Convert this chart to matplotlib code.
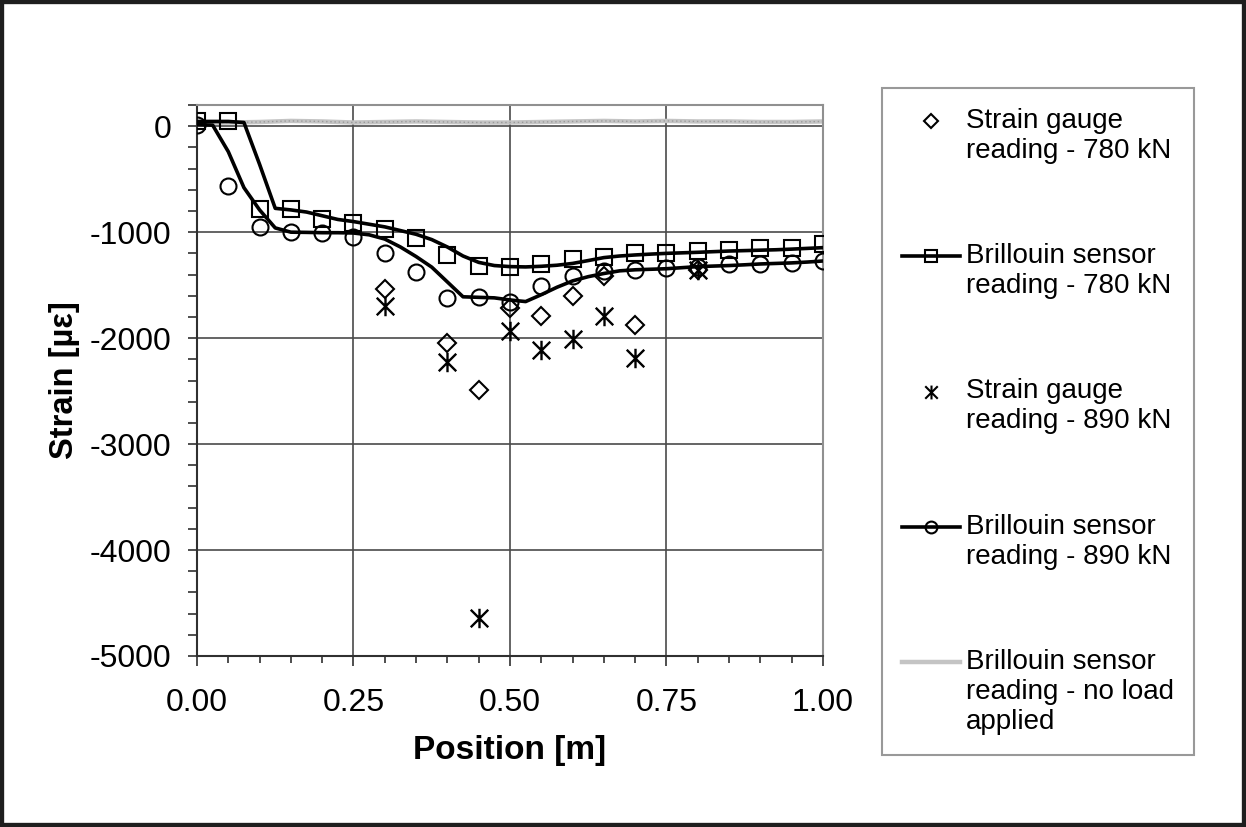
import numpy as np
import matplotlib
matplotlib.use('Agg')
import matplotlib.pyplot as plt
from matplotlib.lines import Line2D
from matplotlib.patches import Rectangle
from matplotlib.path import Path
from matplotlib.ticker import MultipleLocator, FormatStrFormatter

plt.rcParams['font.family'] = ['Liberation Sans', 'DejaVu Sans']
plt.rcParams['axes.unicode_minus'] = False

# strain gauges (positions in m, strain in microstrain)
gauge_pos = [0.30, 0.40, 0.45, 0.50, 0.55, 0.60, 0.65, 0.70, 0.80]
gauge_780 = [-1540, -2045, -2490, -1715, -1787, -1605, -1416, -1872, -1353]
gauge_890 = [-1693, -2229, -4640, -1936, -2115, -2008, -1794, -2187, -1353]

# Brillouin readings (markers)
bri_pos = [0.00, 0.05, 0.10, 0.15, 0.20, 0.25, 0.30, 0.35, 0.40, 0.45, 0.50,
           0.55, 0.60, 0.65, 0.70, 0.75, 0.80, 0.85, 0.90, 0.95, 1.00]
bri_780 = [50, 50, -779, -779, -873, -911, -968, -1053, -1220, -1321, -1327,
           -1300, -1253, -1233, -1201, -1201, -1180, -1170, -1154, -1147, -1110]
bri_890 = [10, -565, -953, -1000, -1012, -1048, -1198, -1373, -1620, -1611, -1662,
           -1510, -1416, -1367, -1355, -1336, -1327, -1305, -1296, -1289, -1274]

# Brillouin profiles (lines)
prof_pos = [0.000, 0.025, 0.050, 0.075, 0.100, 0.125, 0.150, 0.175, 0.200, 0.225,
            0.250, 0.275, 0.300, 0.325, 0.350, 0.375, 0.400, 0.425, 0.450, 0.475,
            0.500, 0.525, 0.550, 0.575, 0.600, 0.625, 0.650, 0.675, 0.700, 0.725,
            0.750, 0.775, 0.800, 0.825, 0.850, 0.875, 0.900, 0.925, 0.950, 0.975, 1.000]
prof_780 = [45, 45, 45, 35, -360, -775, -790, -810, -845, -880,
            -900, -925, -950, -985, -1020, -1070, -1140, -1225, -1285, -1315,
            -1325, -1328, -1322, -1312, -1295, -1268, -1240, -1225, -1215, -1207,
            -1200, -1195, -1190, -1184, -1178, -1174, -1170, -1166, -1160, -1153, -1146]
prof_890 = [15, 10, -240, -580, -790, -960, -1000, -1002, -1005, -1005,
            -1008, -1025, -1065, -1140, -1230, -1330, -1470, -1610, -1615, -1620,
            -1640, -1655, -1590, -1520, -1460, -1420, -1390, -1365, -1355, -1350,
            -1345, -1335, -1325, -1320, -1315, -1308, -1300, -1295, -1290, -1282, -1272]

# no load profile
noload_pos = bri_pos
noload = [30, 35, 40, 50, 45, 35, 40, 45, 40, 35, 35,
          40, 45, 50, 45, 50, 45, 45, 40, 40, 45]

labels = ['Strain gauge\nreading - 780 kN',
          'Brillouin sensor\nreading - 780 kN',
          'Strain gauge\nreading - 890 kN',
          'Brillouin sensor\nreading - 890 kN',
          'Brillouin sensor\nreading - no load\napplied']

# asterisk like the excel one: vertical bar + X
star = Path([(0, -1), (0, 1), (-0.9, -0.9), (0.9, 0.9), (-0.9, 0.9), (0.9, -0.9)],
            [Path.MOVETO, Path.LINETO, Path.MOVETO, Path.LINETO, Path.MOVETO, Path.LINETO])

fig = plt.figure(figsize=(12.46, 8.27), dpi=100)
ax = fig.add_axes([0.1581, 0.2068, 0.5024, 0.6662])

ax.plot(noload_pos, noload, color='#c4c4c4', lw=3.2, zorder=2)
ax.plot(noload_pos, noload, color='#9a9a9a', lw=1, ls=(0, (1, 2)), zorder=2)
ax.plot(prof_pos, prof_780, color='black', lw=2.6, zorder=3)
ax.plot(prof_pos, prof_890, color='black', lw=2.6, zorder=3)
ax.plot(bri_pos, bri_780, ls='none', marker='s', ms=12, mfc='none', mec='black', mew=1.5, zorder=4)
ax.plot(bri_pos, bri_890, ls='none', marker='o', ms=11.5, mfc='none', mec='black', mew=1.5, zorder=4)
ax.plot(gauge_pos, gauge_780, ls='none', marker='D', ms=9.5, mfc='none', mec='black', mew=1.5, zorder=4)
ax.plot(gauge_pos, gauge_890, ls='none', marker=star, ms=14, mec='black', mew=1.7, zorder=4)

ax.set_xlim(0, 1)
ax.set_ylim(-5000, 200)
ax.xaxis.set_major_locator(MultipleLocator(0.25))
ax.xaxis.set_minor_locator(MultipleLocator(0.05))
ax.yaxis.set_major_locator(MultipleLocator(1000))
ax.yaxis.set_minor_locator(MultipleLocator(200))
ax.xaxis.set_major_formatter(FormatStrFormatter('%.2f'))
ax.grid(which='major', color='#4a4a4a', lw=1.2)
ax.set_axisbelow(True)

ax.tick_params(axis='x', which='major', length=7, width=1.3, pad=16, labelsize=23, color='#404040')
ax.tick_params(axis='x', which='minor', length=5, width=1.3, color='#404040')
ax.tick_params(axis='y', which='major', length=6.5, width=1.3, pad=12, labelsize=23, color='#404040')
ax.tick_params(axis='y', which='minor', length=6.5, width=1.3, color='#404040')
for s in ['left', 'bottom']:
    ax.spines[s].set_color('#303030')
    ax.spines[s].set_linewidth(1.5)
for s in ['top', 'right']:
    ax.spines[s].set_color('#909090')
    ax.spines[s].set_linewidth(1.5)

ax.set_xlabel('Position [m]', fontsize=24, fontweight='bold', labelpad=12)
ax.set_ylabel('Strain [µε]', fontsize=23.5, fontweight='bold', labelpad=7)

handles = [Line2D([], [], ls='none', marker='D', ms=7.5, mfc='none', mec='black', mew=1.5),
           Line2D([], [], color='black', lw=2.6, marker='s', ms=9, mfc='none', mec='black', mew=1.5),
           Line2D([], [], ls='none', marker=star, ms=10, mec='black', mew=1.5),
           Line2D([], [], color='black', lw=2.6, marker='o', ms=8.5, mfc='none', mec='black', mew=1.5),
           Line2D([], [], color='#c4c4c4', lw=3.2)]

leg = fig.legend(handles, labels, loc='upper left', bbox_to_anchor=(882 / 1246, 1 - 88 / 827),
                 fontsize=20, frameon=True, fancybox=False, borderpad=0.72, labelspacing=2.85,
                 handlelength=2.1, handletextpad=0.2, borderaxespad=0)
leg.get_frame().set_edgecolor('#808080')
leg.get_frame().set_linewidth(1.5)
for t in leg.get_texts():
    t.set_linespacing(1.2)
# put the keys next to the first line of each label
line_step = 21.6
for h, lab in zip(leg.legend_handles, labels):
    h.set_ydata(np.asarray(h.get_ydata()) + lab.count('\n') * line_step / 2)

fig.add_artist(Rectangle((0, 0), 1, 1, transform=fig.transFigure, fill=False,
                         lw=6, ec='#1e1e1e'))

fig.savefig('out.png', dpi=100)
